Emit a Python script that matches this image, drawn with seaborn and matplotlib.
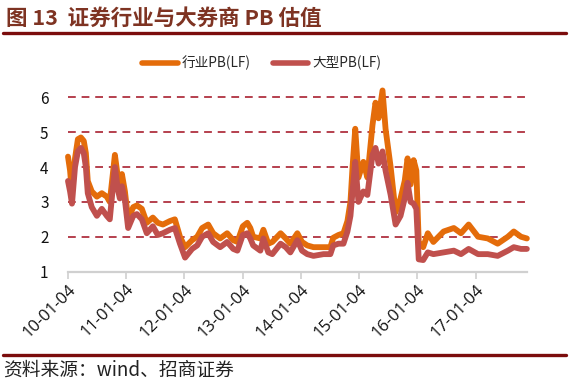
import matplotlib
matplotlib.use("Agg")
import matplotlib.pyplot as plt
import pandas as pd
import seaborn as sns

dates = [
    "2010-01-04", "2010-01-17", "2010-01-29", "2010-02-17", "2010-03-07", "2010-03-26",
    "2010-04-13", "2010-04-26", "2010-05-08", "2010-06-02", "2010-07-04", "2010-08-04",
    "2010-09-04", "2010-09-23", "2010-10-12", "2010-10-25", "2010-11-13", "2010-11-25",
    "2010-12-08", "2010-12-27", "2011-01-16", "2011-02-17", "2011-03-12", "2011-04-12",
    "2011-05-13", "2011-06-20", "2011-07-21", "2011-08-22", "2011-10-05", "2011-11-05",
    "2011-12-07", "2012-01-08", "2012-02-21", "2012-03-24", "2012-04-24", "2012-06-01",
    "2012-07-02", "2012-08-15", "2012-09-28", "2012-11-05", "2012-12-01", "2013-01-04",
    "2013-02-01", "2013-02-20", "2013-03-10", "2013-04-24", "2013-05-13", "2013-06-13",
    "2013-07-08", "2013-08-29", "2013-09-30", "2013-10-29", "2013-12-12", "2014-01-10",
    "2014-02-12", "2014-03-23", "2014-05-25", "2014-07-07", "2014-07-25", "2014-08-27",
    "2014-09-27", "2014-10-22", "2014-11-10", "2014-11-23", "2014-12-10", "2014-12-30",
    "2015-01-30", "2015-02-24", "2015-03-28", "2015-04-16", "2015-05-05", "2015-05-30",
    "2015-06-18", "2015-07-20", "2015-08-20", "2015-09-20", "2015-10-16", "2015-11-03",
    "2015-11-22", "2015-12-11", "2015-12-28", "2016-01-12", "2016-02-09", "2016-03-09",
    "2016-04-13", "2016-06-16", "2016-08-19", "2016-10-03", "2016-11-20", "2017-01-18",
    "2017-03-20", "2017-05-21", "2017-07-24", "2017-08-30", "2017-10-14", "2017-11-20",
]
industry_pb = [
    4.3, 3.9, 3.25, 4.25, 4.8, 4.85, 4.75, 4.4, 3.6, 3.3, 3.15, 3.25,
    3.15, 3.0, 3.8, 4.35, 3.7, 3.5, 3.8, 3.3, 2.5, 2.85, 2.9, 2.8,
    2.4, 2.55, 2.4, 2.35, 2.45, 2.5, 2.0, 1.7, 1.9, 2.0, 2.25, 2.35,
    2.1, 1.95, 2.1, 1.9, 1.85, 2.3, 2.4, 2.25, 2.0, 1.95, 2.2, 1.8,
    1.85, 2.1, 1.95, 1.8, 2.1, 1.85, 1.75, 1.7, 1.7, 1.7, 1.97, 2.05,
    2.1, 2.45, 3.0, 4.0, 5.1, 3.7, 4.15, 3.7, 5.2, 5.85, 5.4, 6.2,
    5.1, 4.0, 2.7, 3.1, 3.6, 4.25, 3.5, 4.2, 3.9, 1.85, 1.7, 2.1,
    1.85, 2.15, 2.25, 2.1, 2.35, 2.0, 1.95, 1.8, 2.0, 2.15, 2.0, 1.95,
]
large_pb = [
    3.6, 3.3, 2.95, 4.0, 4.45, 4.55, 4.4, 4.0, 3.25, 2.85, 2.6, 2.8,
    2.6, 2.5, 3.4, 4.0, 3.35, 3.1, 3.45, 3.05, 2.25, 2.6, 2.65, 2.5,
    2.1, 2.3, 2.05, 2.1, 2.2, 2.25, 1.8, 1.4, 1.65, 1.75, 2.0, 2.1,
    1.85, 1.7, 1.85, 1.65, 1.6, 2.05, 2.1, 1.95, 1.75, 1.6, 1.95, 1.55,
    1.5, 1.8, 1.7, 1.55, 1.9, 1.6, 1.5, 1.45, 1.5, 1.5, 1.75, 1.8,
    1.8, 2.15, 2.6, 3.3, 4.15, 3.0, 3.3, 3.2, 4.35, 4.55, 4.1, 4.45,
    3.9, 3.2, 2.35, 2.6, 3.1, 3.55, 3.0, 2.95, 2.8, 1.35, 1.33, 1.55,
    1.5, 1.55, 1.6, 1.5, 1.65, 1.5, 1.5, 1.45, 1.6, 1.7, 1.65, 1.65,
]
series_names = ["行业PB(LF)", "大型PB(LF)"]
colors = ["#E46C0A", "#C0504D"]
tick_dates = ["2010-01-04", "2011-01-04", "2012-01-04", "2013-01-04",
              "2014-01-04", "2015-01-04", "2016-01-04", "2017-01-04"]
tick_labels = ["10-01-04", "11-01-04", "12-01-04", "13-01-04",
               "14-01-04", "15-01-04", "16-01-04", "17-01-04"]

sns.set_style("white")
plt.rcParams["font.family"] = ["Noto Sans CJK SC", "DejaVu Sans"]

df = pd.DataFrame({"date": pd.to_datetime(dates), series_names[0]: industry_pb, series_names[1]: large_pb})
long_df = df.melt(id_vars="date", var_name="series", value_name="pb")

fig = plt.figure(figsize=(5.69, 3.83), dpi=100)
ax = fig.add_axes([0.1195, 0.291, 0.807, 0.491])

sns.lineplot(data=long_df, x="date", y="pb", hue="series", hue_order=series_names,
             palette=colors, linewidth=4.2, ax=ax, legend=False, clip_on=False)

ax.set_ylim(1, 6.4)
ax.set_xlim(pd.Timestamp("2010-01-04"), pd.Timestamp("2017-11-22"))
ax.set_yticks([1, 2, 3, 4, 5, 6])
for v in [2, 3, 4, 5, 6]:
    ax.axhline(v, color="#B5404E", lw=1.4, ls=(0, (4, 3)), zorder=0)

ax.set_xticks(pd.to_datetime(tick_dates))
ax.set_xticklabels(tick_labels, rotation=45, ha="right", rotation_mode="anchor",
                   fontsize=12, family="Open Sans", color="#111111")
ax.tick_params(axis="x", length=5, width=1.2, color="#D0D0D0", bottom=True, pad=2)
ax.tick_params(axis="y", length=0, labelsize=11, pad=14, labelcolor="#111111")
ax.set_xlabel("")
ax.set_ylabel("")
for s in ["top", "right", "left"]:
    ax.spines[s].set_visible(False)
ax.spines["bottom"].set_color("#D0D0D0")
ax.spines["bottom"].set_linewidth(1.6)

handles = [plt.Line2D([], [], color=c, lw=4) for c in colors]
fig.legend(handles, series_names, loc="center", bbox_to_anchor=(0.46, 0.835), ncol=2,
           frameon=False, fontsize=9.8, handlelength=2.6, handletextpad=0.3, columnspacing=1.6)

fig.text(0.01, 0.953, "图 13  证券行业与大券商 PB 估值", fontsize=15.5, fontweight="bold",
         color="#7E3322", va="center")
fig.add_artist(plt.Line2D([0.006, 0.994], [0.915, 0.915], color="#7B0C0C", lw=2.4))
fig.add_artist(plt.Line2D([0.006, 0.994], [0.073, 0.073], color="#7B0C0C", lw=2.4))
fig.text(0.006, 0.034, "资料来源：wind、招商证券", fontsize=13.5, color="#222222", va="center")

fig.savefig("out.png", dpi=100)
